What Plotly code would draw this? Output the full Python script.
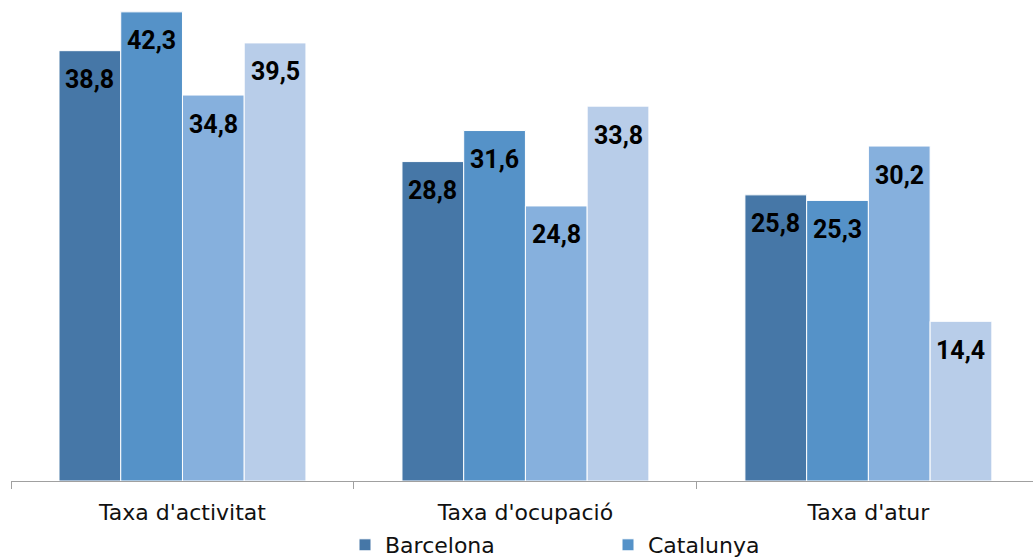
import plotly.graph_objects as go

categories = ["Taxa d'activitat", "Taxa d'ocupació", "Taxa d'atur"]
series_names = ["Barcelona", "Catalunya", "Barcelona (sèrie 2)", "Catalunya (sèrie 2)"]
values_s1 = [38.8, 28.8, 25.8]
values_s2 = [42.3, 31.6, 25.3]
values_s3 = [34.8, 24.8, 30.2]
values_s4 = [39.5, 33.8, 14.4]
series_values = [values_s1, values_s2, values_s3, values_s4]
colors = ["#4677a7", "#5592c8", "#86b0dd", "#b8cde9"]
show_in_legend = [True, True, False, False]

bar_w = 0.18
fig = go.Figure()
annotations = []
for i, (name, vals) in enumerate(zip(series_names, series_values)):
    off = -2 * bar_w + i * bar_w
    fig.add_trace(go.Bar(
        x=categories, y=vals, name=name,
        width=bar_w, offset=off,
        marker=dict(color=colors[i], line=dict(color="white", width=1)),
        showlegend=show_in_legend[i],
    ))
    for j, v in enumerate(vals):
        annotations.append(dict(
            x=j + off + bar_w / 2, y=v, xref="x", yref="y",
            text=f"{v:.1f}".replace(".", ","), showarrow=False,
            yshift=-29, font=dict(family="Roboto", size=25, color="black", weight="bold"),
        ))

fig.update_layout(
    width=1033, height=559,
    margin=dict(l=11, r=0, t=0, b=78),
    plot_bgcolor="white", paper_bgcolor="white",
    annotations=annotations,
    barmode="group",
    xaxis=dict(
        type="category", range=[-0.5, 2.48], automargin=False,
        showline=True, linecolor="#a0a0a0", linewidth=1,
        ticks="outside", tickson="boundaries", ticklen=7, tickcolor="#a0a0a0",
        ticklabelstandoff=12,
        tickfont=dict(family="DejaVu Sans", size=22, color="#111111"),
        showgrid=False,
    ),
    yaxis=dict(range=[0, 43.37], visible=False, showgrid=False, automargin=False),
    legend=dict(
        orientation="h", xref="container", yref="container",
        x=345 / 1033, xanchor="left", y=14 / 559, yanchor="middle",
        font=dict(family="DejaVu Sans", size=22, color="#111111"),
        entrywidth=218, entrywidthmode="pixels",
        itemwidth=30,
    ),
    showlegend=True,
)

fig.write_html(
    "out.html",
    config={"displayModeBar": False},
    post_script="document.body.style.margin='0px';document.body.style.overflow='hidden';",
)
